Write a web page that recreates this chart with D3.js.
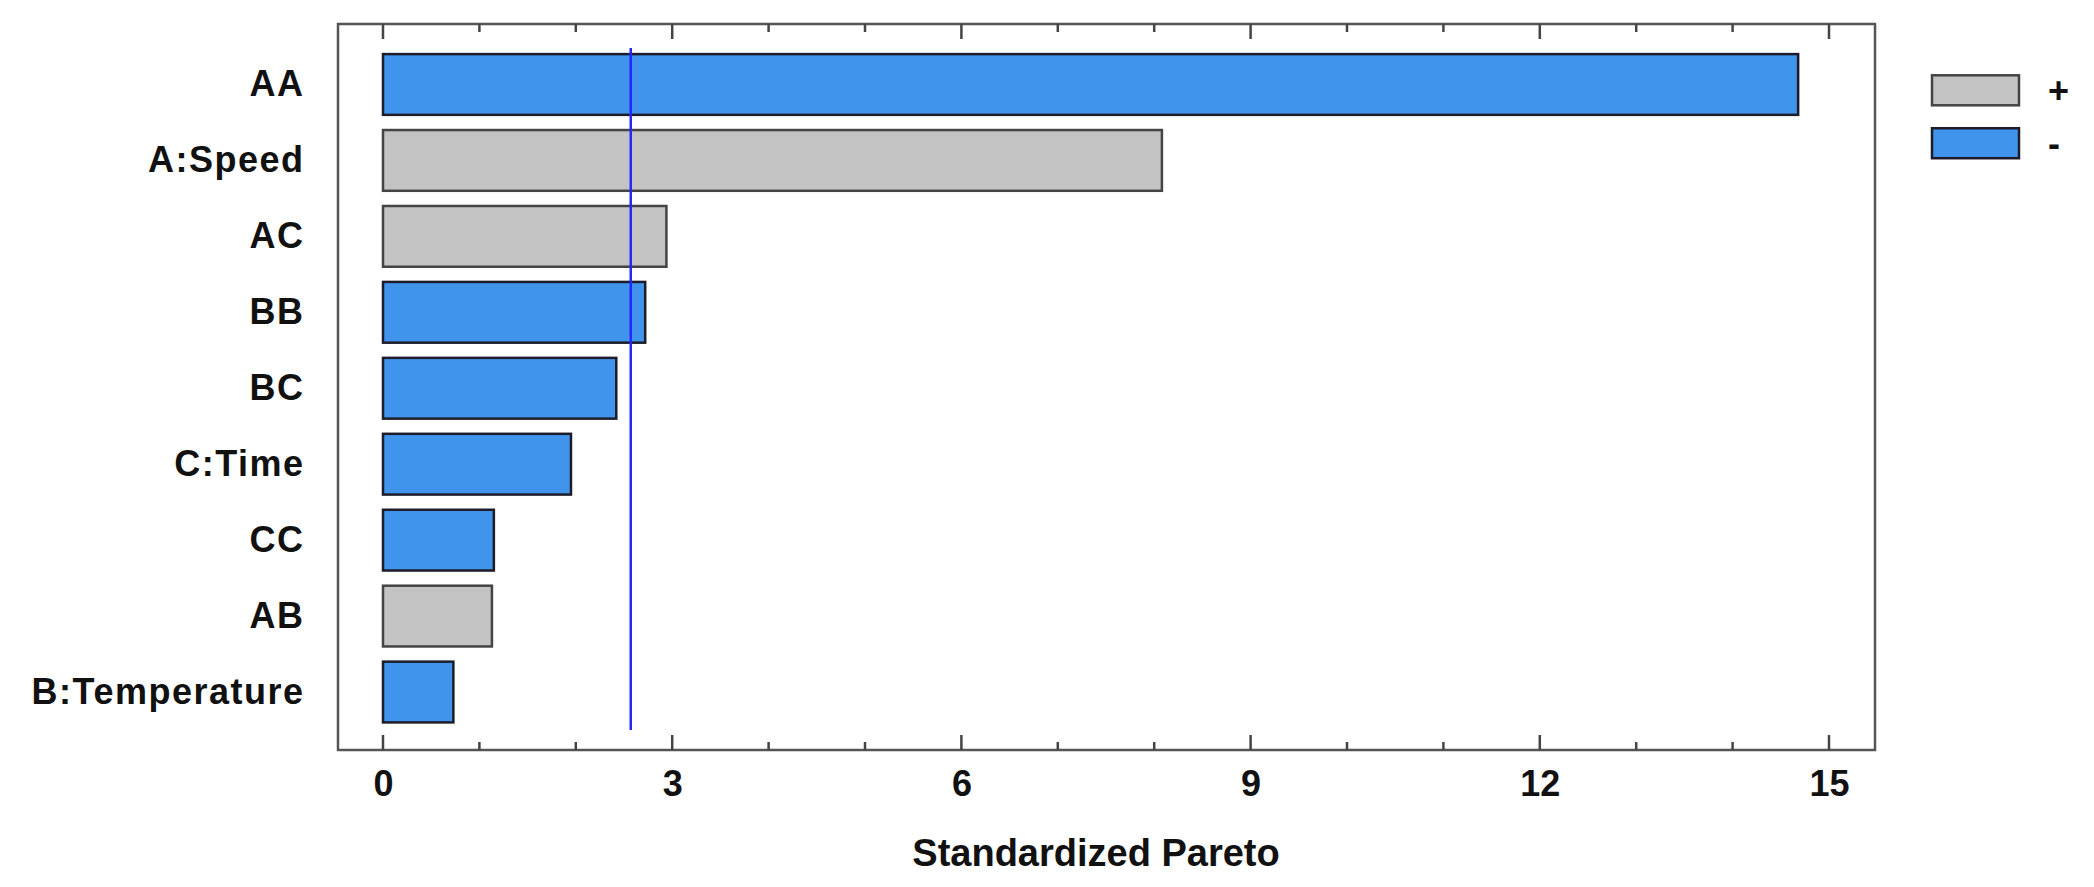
<!DOCTYPE html>
<html>
<head>
<meta charset="utf-8">
<script src="https://cdn.jsdelivr.net/npm/d3@7/dist/d3.min.js"></script>
<style>
  html, body { margin: 0; padding: 0; background: #ffffff; }
  svg { display: block; }
  text { font-family: "Liberation Sans", Arial, sans-serif; font-weight: bold; fill: #111; }
</style>
</head>
<body>
<svg id="chart" width="2094" height="887"></svg>
<script>
const categories = ["AA", "A:Speed", "AC", "BB", "BC", "C:Time", "CC", "AB", "B:Temperature"];
const values = [14.68, 8.08, 2.94, 2.72, 2.42, 1.95, 1.15, 1.13, 0.73];
const signs = ["-", "+", "+", "-", "-", "-", "-", "+", "-"];
const referenceValue = 2.57;
const xTickValues = [0, 3, 6, 9, 12, 15];
const legendLabels = ["+", "-"];
const xAxisTitle = "Standardized Pareto";

const colorFor = { "+": "#c3c3c3", "-": "#4194ec" };

const svg = d3.select("#chart");
const frame = { left: 338, right: 1875, top: 24, bottom: 750 };

const x = d3.scaleLinear().domain([0, 15]).range([383, 1829]);
const y = d3.scaleBand().domain(categories).range([46.5, 730]).paddingInner(0.2).paddingOuter(0.1);

// Frame
svg.append("rect")
  .attr("x", frame.left).attr("y", frame.top)
  .attr("width", frame.right - frame.left).attr("height", frame.bottom - frame.top)
  .attr("fill", "none").attr("stroke", "#555").attr("stroke-width", 2.5);

// Ticks (inward, top and bottom)
const minorTicks = d3.range(0, 16, 1);
const tickG = svg.append("g");
minorTicks.forEach(v => {
  const major = v % 3 === 0;
  const len = major ? 15 : 8;
  tickG.append("line").attr("x1", x(v)).attr("x2", x(v))
    .attr("y1", frame.bottom).attr("y2", frame.bottom - len)
    .attr("stroke", "#444").attr("stroke-width", 2.5);
  tickG.append("line").attr("x1", x(v)).attr("x2", x(v))
    .attr("y1", frame.top).attr("y2", frame.top + len)
    .attr("stroke", "#444").attr("stroke-width", 2.5);
});

// Tick labels via axis generator
const xAxis = d3.axisBottom(x).tickValues(xTickValues).tickSize(0).tickPadding(0).tickFormat(d3.format("d"));
const axisG = svg.append("g").attr("transform", `translate(0, ${frame.bottom})`).call(xAxis);
axisG.select(".domain").remove();
axisG.selectAll("text")
  .attr("y", 46).attr("dy", 0)
  .style("font-size", "36px").style("font-weight", "bold")
  .style("font-family", '"Liberation Sans", Arial, sans-serif').attr("fill", "#111");

// Bars
svg.append("g").selectAll("rect")
  .data(categories)
  .join("rect")
  .attr("x", x(0))
  .attr("y", d => y(d))
  .attr("width", (d, i) => x(values[i]) - x(0))
  .attr("height", y.bandwidth())
  .attr("fill", (d, i) => colorFor[signs[i]])
  .attr("stroke", (d, i) => signs[i] === "+" ? "#444" : "#1c1c2a")
  .attr("stroke-width", 2.5);

// Category labels
const yAxis = d3.axisLeft(y).tickSize(0).tickPadding(0);
const yG = svg.append("g").attr("transform", "translate(304.5, 0)").call(yAxis);
yG.select(".domain").remove();
yG.selectAll("text")
  .style("font-size", "36px").style("font-weight", "bold")
  .style("letter-spacing", "1.5px")
  .style("font-family", '"Liberation Sans", Arial, sans-serif').attr("fill", "#111");

// Reference line
svg.append("line")
  .attr("x1", x(referenceValue)).attr("x2", x(referenceValue))
  .attr("y1", 48).attr("y2", 730)
  .attr("stroke", "#2626ff").attr("stroke-width", 2.5);

// Axis title
svg.append("text")
  .attr("x", 1096).attr("y", 866)
  .attr("text-anchor", "middle")
  .style("font-size", "38px")
  .text(xAxisTitle);

// Legend
const legendY = d3.scaleBand().domain(legendLabels).range([70, 160]).paddingInner(0.5).paddingOuter(0.1);
const lg = svg.append("g");
legendLabels.forEach(l => {
  lg.append("rect")
    .attr("x", 1932).attr("y", legendY(l))
    .attr("width", 87).attr("height", 30)
    .attr("fill", colorFor[l])
    .attr("stroke", l === "+" ? "#444" : "#1c1c2a").attr("stroke-width", 2.5);
  lg.append("text")
    .attr("x", 2048).attr("y", legendY(l) + 15)
    .attr("dy", "0.35em")
    .style("font-size", "36px")
    .text(l);
});
</script>
</body>
</html>
